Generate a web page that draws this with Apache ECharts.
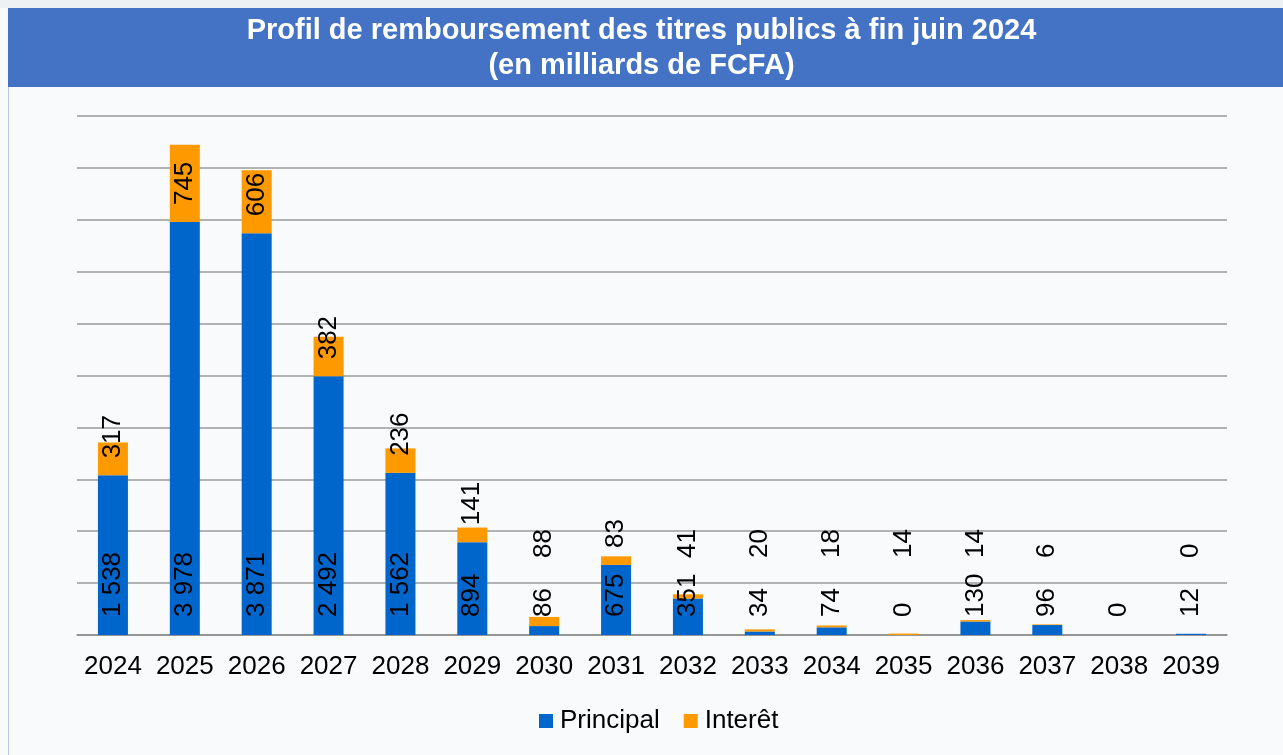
<!DOCTYPE html>
<html>
<head>
<meta charset="utf-8">
<script src="https://cdn.jsdelivr.net/npm/echarts@6/dist/echarts.min.js"></script>
<style>
  html, body { margin: 0; padding: 0; background: #eef1f4; }
  #chart { width: 1283px; height: 755px; }
</style>
</head>
<body>
<div id="chart"></div>
<script>
// chart values
const years = ['2024', '2025', '2026', '2027', '2028', '2029', '2030', '2031',
  '2032', '2033', '2034', '2035', '2036', '2037', '2038', '2039'];
const principal = [1538, 3978, 3871, 2492, 1562, 894, 86, 675, 351, 34, 74, 0, 130, 96, 0, 12];
const interet = [317, 745, 606, 382, 236, 141, 88, 83, 41, 20, 18, 14, 14, 6, null, 0];
const yMax = 5000;
const yStep = 500;

// layout
const gridTop = 116;
const gridBottom = 120;
const plotH = 755 - gridTop - gridBottom;
const baseY = 755 - gridBottom;
const font = "'Liberation Sans', Arial, sans-serif";

function fmt(v) {
  return String(v).replace(/\B(?=(\d{3})+(?!\d))/g, ' ');
}

// interest label starts a little above the principal part, never lower than a fixed line
const interetData = interet.map((v, i) => {
  if (v == null) return { value: null };
  const pTop = baseY - principal[i] * plotH / yMax;
  return { value: v, label: { distance: Math.max(17, pTop - 558) } };
});

const chart = echarts.init(document.getElementById('chart'));

chart.setOption({
  backgroundColor: '#f8fafb',
  animation: false,
  textStyle: { fontFamily: font },
  graphic: [
    { type: 'rect', shape: { x: 0, y: 0, width: 1283, height: 8 }, style: { fill: '#eef1f4' }, silent: true },
    { type: 'rect', shape: { x: 8, y: 8, width: 1275, height: 79 }, style: { fill: '#4472c4' }, silent: true },
    { type: 'line', shape: { x1: 8.5, y1: 87, x2: 8.5, y2: 755 }, style: { stroke: '#b4c7e7', lineWidth: 1 }, silent: true }
  ],
  title: {
    text: 'Profil de remboursement des titres publics à fin juin 2024\n(en milliards de FCFA)',
    left: 'center',
    top: 8,
    textStyle: { color: '#fff', fontSize: 29, fontWeight: 'bold', lineHeight: 35, fontFamily: font }
  },
  legend: {
    bottom: 16,
    left: 534,
    icon: 'rect',
    itemWidth: 14,
    itemHeight: 14,
    itemGap: 24,
    textStyle: { fontSize: 26, color: '#000', fontFamily: font, padding: [0, 0, 0, 2] },
    data: ['Principal', 'Interêt']
  },
  grid: { left: 77, right: 56, top: gridTop, bottom: gridBottom },
  xAxis: {
    type: 'category',
    data: years,
    axisLine: { lineStyle: { color: '#8c8c8c', width: 1.5 } },
    axisTick: { interval: 0, lineStyle: { color: '#8c8c8c', width: 1.5 }, length: 7 },
    axisLabel: { interval: 0, fontSize: 26, color: '#000', margin: 19, fontFamily: font }
  },
  yAxis: {
    type: 'value',
    min: 0,
    max: yMax,
    interval: yStep,
    axisLabel: { show: false },
    axisLine: { show: false },
    axisTick: { show: false },
    splitLine: { lineStyle: { color: '#9a9a9a', width: 1.5 } }
  },
  series: [
    {
      name: 'Principal',
      type: 'bar',
      stack: 'total',
      barWidth: 30,
      itemStyle: { color: '#0066cc' },
      label: {
        show: true,
        position: 'insideBottom',
        distance: 18,
        rotate: 90,
        align: 'left',
        verticalAlign: 'middle',
        fontSize: 26,
        color: '#000',
        fontFamily: font,
        formatter: p => fmt(p.value)
      },
      data: principal
    },
    {
      name: 'Interêt',
      type: 'bar',
      stack: 'total',
      barWidth: 30,
      itemStyle: { color: '#ff9900' },
      label: {
        show: true,
        position: 'insideBottom',
        rotate: 90,
        align: 'left',
        verticalAlign: 'middle',
        fontSize: 26,
        color: '#000',
        fontFamily: font,
        formatter: p => fmt(p.value)
      },
      data: interetData
    }
  ]
});
</script>
</body>
</html>
